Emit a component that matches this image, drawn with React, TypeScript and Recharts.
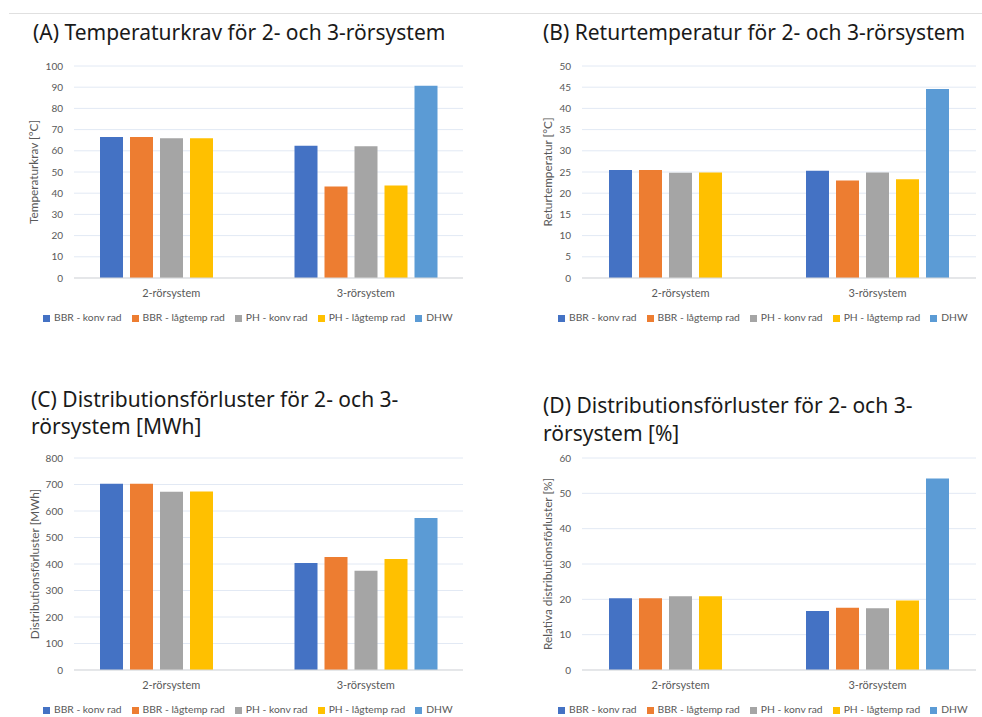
import { BarChart, Bar, XAxis, YAxis, CartesianGrid, Legend } from 'recharts';

const categories = ['2-rörsystem', '3-rörsystem'];
const seriesNames = ['BBR - konv rad', 'BBR - lågtemp rad', 'PH - konv rad', 'PH - lågtemp rad', 'DHW'];
const seriesColors = ['#4472C4', '#ED7D31', '#A5A5A5', '#FFC000', '#5B9BD5'];

// one inner array per series, one value per category (DHW has no 2-rörsystem bar)
const temperaturkrav = [[66.5, 62.4], [66.5, 43.2], [65.9, 62.1], [65.9, 43.6], [null, 90.7]];
const returtemperatur = [[25.5, 25.3], [25.5, 23.0], [24.8, 24.9], [24.9, 23.3], [null, 44.6]];
const forlusterMWh = [[703, 404], [703, 426], [673, 375], [674, 419], [null, 574]];
const forlusterPct = [[20.3, 16.7], [20.3, 17.6], [20.9, 17.5], [20.9, 19.7], [null, 54.2]];

const ticksA = [0, 10, 20, 30, 40, 50, 60, 70, 80, 90, 100];
const ticksB = [0, 5, 10, 15, 20, 25, 30, 35, 40, 45, 50];
const ticksC = [0, 100, 200, 300, 400, 500, 600, 700, 800];
const ticksD = [0, 10, 20, 30, 40, 50, 60];

const TEXT = '#595959';
const FONT = 'Lato, sans-serif';

function toRows(values: (number | null)[][]) {
  return categories.map((category, i) => {
    const row: Record<string, string | number | null> = { category };
    seriesNames.forEach((name, s) => {
      row[name] = values[s][i];
    });
    return row;
  });
}

type PanelProps = {
  title: string[];
  titleLeft: number;
  titleTop: number;
  lineHeight: number;
  left: number;
  top: number;
  width: number;
  axisWidth: number;
  rightMargin: number;
  labelOffset: number;
  legendLeft: number;
  yLabel: string;
  values: (number | null)[][];
  ticks: number[];
};

function Panel(p: PanelProps) {
  const data = toRows(p.values);
  return (
    <>
      <div
        style={{
          position: 'absolute',
          left: p.titleLeft,
          top: p.titleTop,
          fontFamily: '"Noto Sans", sans-serif',
          fontSize: 21,
          lineHeight: `${p.lineHeight}px`,
          color: '#1a1a1a',
          whiteSpace: 'nowrap',
        }}
      >
        {p.title.map((t) => (
          <div key={t}>{t}</div>
        ))}
      </div>
      <div style={{ position: 'absolute', left: p.left, top: p.top }}>
        <BarChart
          width={p.width}
          height={290}
          data={data}
          margin={{ top: 20, right: p.rightMargin, left: 0, bottom: 9 }}
          barSize={23}
          barGap={7}
        >
          <CartesianGrid vertical={false} stroke="#e2e9f4" />
          <XAxis
            dataKey="category"
            tickLine={false}
            tickSize={0}
            tickMargin={11}
            height={33}
            axisLine={{ stroke: '#d9d9d9' }}
            tick={{ fontSize: 11, fill: TEXT, fontFamily: FONT }}
          />
          <YAxis
            width={p.axisWidth}
            domain={[p.ticks[0], p.ticks[p.ticks.length - 1]]}
            ticks={p.ticks}
            interval={0}
            axisLine={false}
            tickLine={false}
            tickSize={0}
            tickMargin={11}
            tick={{ fontSize: 10, fill: TEXT, fontFamily: FONT }}
            label={{
              value: p.yLabel,
              angle: -90,
              position: 'insideLeft',
              offset: p.labelOffset,
              style: { textAnchor: 'middle', fontSize: 11.8, fill: TEXT, fontFamily: FONT },
            }}
          />
          <Legend
            height={16}
            align="left"
            iconType="square"
            iconSize={7}
            itemSorter={(item) => seriesNames.indexOf(String(item.value))}
            wrapperStyle={{
              fontSize: 10.3,
              fontFamily: FONT,
              left: p.legendLeft,
              width: 460,
              whiteSpace: 'nowrap',
            }}
            formatter={(value) => <span style={{ color: TEXT }}>{value}</span>}
          />
          {seriesNames.map((name, s) => (
            <Bar key={name} dataKey={name} fill={seriesColors[s]} isAnimationActive={false} />
          ))}
        </BarChart>
      </div>
    </>
  );
}

export default function App() {
  return (
    <div
      style={{
        position: 'absolute',
        left: 0,
        top: 0,
        width: 982,
        height: 717,
        background: '#ffffff',
        overflow: 'hidden',
      }}
    >
      <div style={{ position: 'absolute', left: 9, top: 13, width: 973, height: 1, background: '#e0e0e0' }} />
      <Panel
        title={['(A) Temperaturkrav för 2- och 3-rörsystem']}
        titleLeft={33}
        titleTop={19}
        lineHeight={27}
        left={0}
        top={46}
        width={488}
        axisWidth={74}
        rightMargin={25}
        labelOffset={34}
        legendLeft={43}
        yLabel="Temperaturkrav [°C]"
        values={temperaturkrav}
        ticks={ticksA}
      />
      <Panel
        title={['(B) Returtemperatur för 2- och 3-rörsystem']}
        titleLeft={543}
        titleTop={19}
        lineHeight={27}
        left={530}
        top={46}
        width={446}
        axisWidth={52}
        rightMargin={0}
        labelOffset={18}
        legendLeft={28}
        yLabel="Returtemperatur [°C]"
        values={returtemperatur}
        ticks={ticksB}
      />
      <Panel
        title={['(C) Distributionsförluster för 2- och 3-', 'rörsystem [MWh]']}
        titleLeft={31}
        titleTop={386}
        lineHeight={27}
        left={0}
        top={438}
        width={488}
        axisWidth={74}
        rightMargin={25}
        labelOffset={35}
        legendLeft={43}
        yLabel="Distributionsförluster [MWh]"
        values={forlusterMWh}
        ticks={ticksC}
      />
      <Panel
        title={['(D) Distributionsförluster för 2- och 3-', 'rörsystem [%]']}
        titleLeft={543}
        titleTop={391}
        lineHeight={28}
        left={530}
        top={438}
        width={446}
        axisWidth={52}
        rightMargin={0}
        labelOffset={18}
        legendLeft={28}
        yLabel="Relativa distributionsförluster [%]"
        values={forlusterPct}
        ticks={ticksD}
      />
    </div>
  );
}
